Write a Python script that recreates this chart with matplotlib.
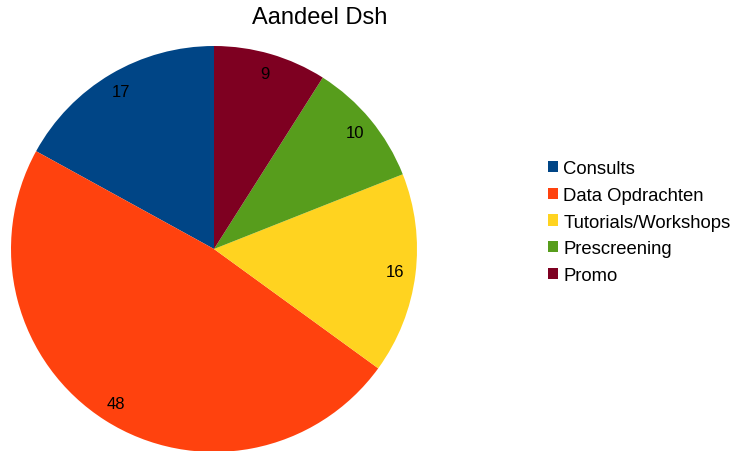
import matplotlib.pyplot as plt
from matplotlib.patches import Patch

plt.rcParams['font.family'] = ['Liberation Sans', 'DejaVu Sans']

categories = ['Consults', 'Data Opdrachten', 'Tutorials/Workshops', 'Prescreening', 'Promo']
values = [17, 48, 16, 10, 9]
colors = ['#004586', '#ff420e', '#ffd320', '#579d1c', '#7e0021']

fig = plt.figure(figsize=(7.34, 4.52), dpi=100)
ax = fig.add_axes([11 / 734, -1 / 452, 406 / 734, 406 / 452])
wedges, texts = ax.pie(values, colors=colors, startangle=90, counterclock=True,
                       labels=[str(v) for v in values], labeldistance=0.9,
                       textprops={'fontsize': 12, 'color': 'black'})
for t in texts:
    t.set_ha('center')
    t.set_va('center')
ax.set_aspect('equal')
ax.set_xlim(-1, 1)
ax.set_ylim(-1, 1)

fig.text(320 / 734, 1 - 18 / 452, 'Aandeel Dsh', ha='center', va='center', fontsize=17)

handles = [Patch(facecolor=c, edgecolor='none') for c in colors]
fig.legend(handles, categories, loc='center left', bbox_to_anchor=(548 / 734, 1 - 223 / 452),
           frameon=False, fontsize=13.3, handlelength=0.55, handleheight=0.55,
           handletextpad=0.28, labelspacing=0.52, borderpad=0, borderaxespad=0)

fig.savefig('out.png', dpi=100)
